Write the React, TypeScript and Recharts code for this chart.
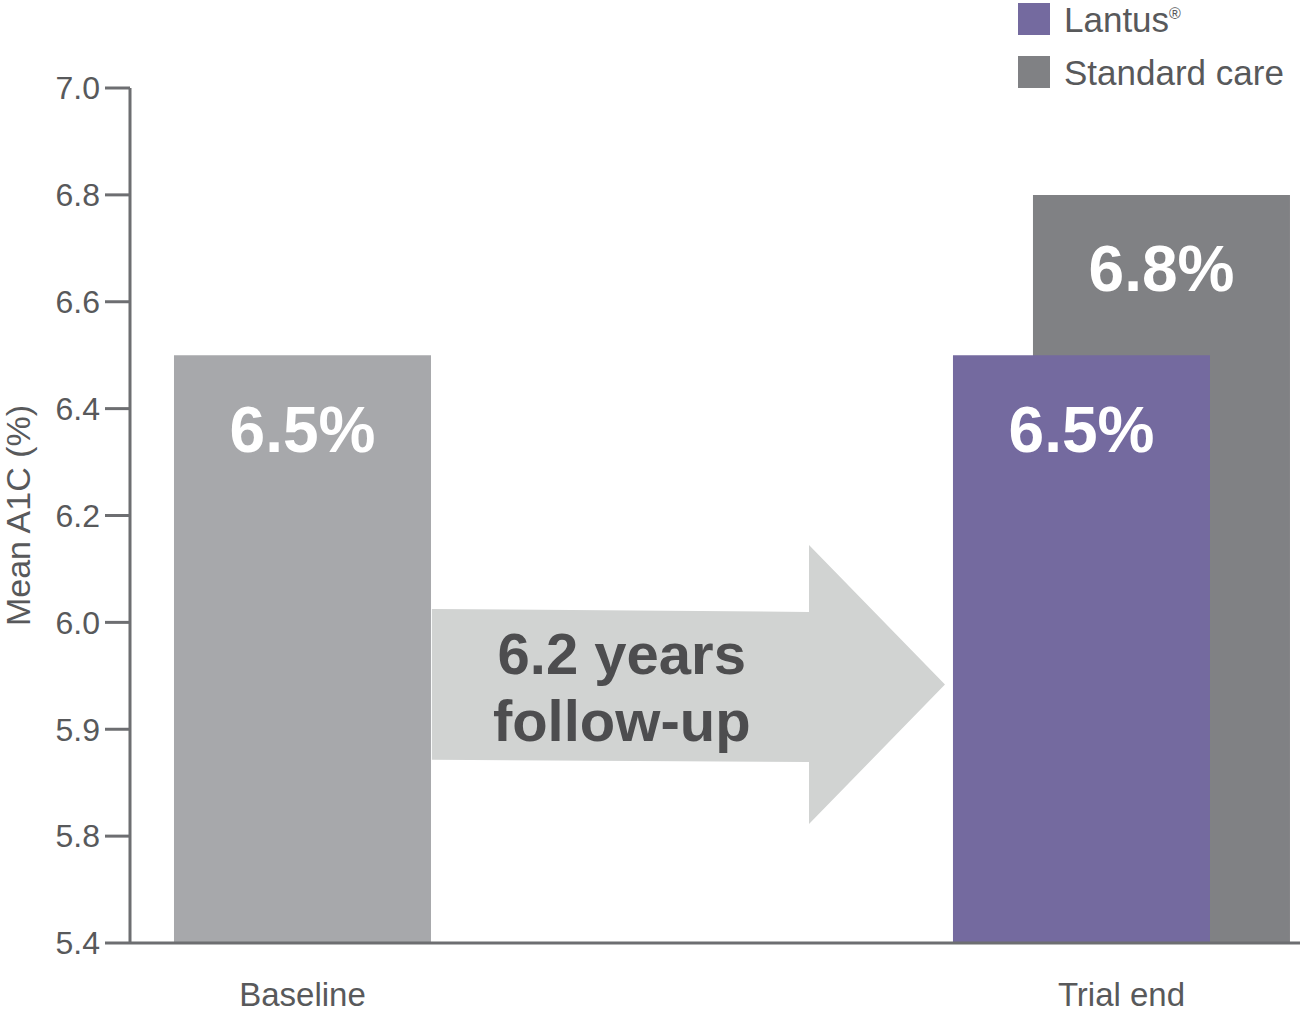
import { Bar, BarChart, LabelList, Legend, ReferenceArea, XAxis, YAxis } from "recharts"

// categories and values
const categories = ["Baseline", "Trial end"]
const baselineA1c = [6.5, null]
const lantusA1c = [null, 6.5]
const standardA1c = [null, 6.8]
const yTickValues = [5.4, 5.8, 5.9, 6.0, 6.2, 6.4, 6.6, 6.8, 7.0]
const arrowText = ["6.2 years", "follow-up"]

const FONT = "'Liberation Sans', Arial, sans-serif"
const TEXT = "#58595b"
const AXIS = "#6d6e71"

// the value axis is broken: every tick step gets the same height,
// so values are placed by their position between neighbouring ticks
const toIndex = (v: number | null) => {
  if (v == null) return null
  for (let i = 0; i < yTickValues.length - 1; i++) {
    if (v <= yTickValues[i + 1]) return i + (v - yTickValues[i]) / (yTickValues[i + 1] - yTickValues[i])
  }
  return yTickValues.length - 1
}
const pct = (v: number | null) => (v == null ? null : `${v.toFixed(1)}%`)

const chartData = categories.map((name, i) => ({
  x: i,
  name,
  baseline: toIndex(baselineA1c[i]),
  baselineLabel: pct(baselineA1c[i]),
  lantus: toIndex(lantusA1c[i]),
  lantusLabel: pct(lantusA1c[i]),
  standard: toIndex(standardA1c[i]),
  standardLabel: pct(standardA1c[i]),
}))

const xDomain = [-0.2106, 1.218]
const yIndexTicks = yTickValues.map((_, i) => i)

const ArrowShape = (props: any) => {
  const { x, y, width: w, height: h } = props
  const headX = x + w * 0.735
  const pts = [
    [x, y + h * 0.229],
    [headX, y + h * 0.24],
    [headX, y],
    [x + w, y + h * 0.5],
    [headX, y + h],
    [headX, y + h * 0.778],
    [x, y + h * 0.77],
  ]
  const cx = x + w * 0.37
  return (
    <g>
      <polygon points={pts.map((p) => p.join(",")).join(" ")} fill="#d1d3d2" />
      {arrowText.map((t, i) => (
        <text
          key={t}
          x={cx}
          y={y + h * 0.462 + i * 67}
          textAnchor="middle"
          fontSize={58}
          fontWeight={700}
          fill="#4d4d4f"
          fontFamily={FONT}
        >
          {t}
        </text>
      ))}
    </g>
  )
}

const renderLegend = (props: any) => {
  const items = (props.payload || []).filter((p: any) => p.type !== "none")
  return (
    <div style={{ fontFamily: FONT }}>
      {items.map((item: any) => {
        const [main, rest] = String(item.value).split("®")
        const hasMark = String(item.value).includes("®")
        return (
          <div key={item.value} style={{ display: "flex", alignItems: "center", height: 38, marginBottom: 15 }}>
            <span style={{ width: 32, height: 32, background: item.color, marginRight: 14, display: "inline-block" }} />
            <span style={{ fontSize: 35, color: TEXT, lineHeight: 1, whiteSpace: "nowrap" }}>
              {main}
              {hasMark && <sup style={{ fontSize: 16 }}>®</sup>}
              {rest}
            </span>
          </div>
        )
      })}
    </div>
  )
}

export default function App() {
  return (
    <div style={{ position: "absolute", left: 0, top: 0, width: 1300, height: 1016, background: "#fff" }}>
      <BarChart
        width={1300}
        height={1016}
        data={chartData}
        margin={{ top: 88, right: 0, bottom: 0, left: 0 }}
        barGap={-337}
        style={{ fontFamily: FONT }}
      >
        <XAxis
          xAxisId="main"
          type="number"
          dataKey="x"
          domain={xDomain}
          allowDataOverflow
          ticks={[0, 1]}
          interval={0}
          tickFormatter={(i) => categories[i]}
          height={73}
          tickLine={false}
          tickSize={0}
          tickMargin={40}
          axisLine={{ stroke: AXIS, strokeWidth: 3 }}
          tick={{ fill: TEXT, fontSize: 33 }}
        />
        <XAxis xAxisId="pair" type="number" dataKey="x" domain={xDomain} allowDataOverflow hide />
        <YAxis
          type="number"
          domain={[0, yTickValues.length - 1]}
          ticks={yIndexTicks}
          interval={0}
          tickFormatter={(i) => yTickValues[i].toFixed(1)}
          width={130}
          tickSize={25}
          tickMargin={5}
          axisLine={{ stroke: AXIS, strokeWidth: 3 }}
          tickLine={{ stroke: AXIS, strokeWidth: 3 }}
          tick={{ fill: TEXT, fontSize: 32 }}
          label={{
            value: "Mean A1C (%)",
            angle: -90,
            position: "insideLeft",
            offset: 18,
            style: { textAnchor: "middle", fill: TEXT, fontSize: 34 },
          }}
        />
        <Legend
          layout="horizontal"
          verticalAlign="middle"
          align="center"
          wrapperStyle={{ top: 0, left: 1018, width: 282 }}
          content={renderLegend}
        />
        <ReferenceArea xAxisId="main" x1={0.158} x2={0.7845} y1={1.113} y2={3.724} shape={ArrowShape} />
        <Bar
          xAxisId="main"
          dataKey="baseline"
          name="Baseline"
          fill="#a7a8ab"
          barSize={257}
          legendType="none"
          isAnimationActive={false}
        >
          <LabelList dataKey="baselineLabel" position="insideTop" offset={51} fill="#fff" fontSize={64} fontWeight={700} />
        </Bar>
        <Bar
          xAxisId="pair"
          dataKey="standard"
          name="Standard care"
          fill="#808184"
          barSize={257}
          isAnimationActive={false}
        >
          <LabelList dataKey="standardLabel" position="insideTop" offset={51} fill="#fff" fontSize={64} fontWeight={700} />
        </Bar>
        <Bar
          xAxisId="pair"
          dataKey="lantus"
          name="Lantus®"
          fill="#746a9f"
          barSize={257}
          isAnimationActive={false}
        >
          <LabelList dataKey="lantusLabel" position="insideTop" offset={51} fill="#fff" fontSize={64} fontWeight={700} />
        </Bar>
      </BarChart>
    </div>
  )
}
